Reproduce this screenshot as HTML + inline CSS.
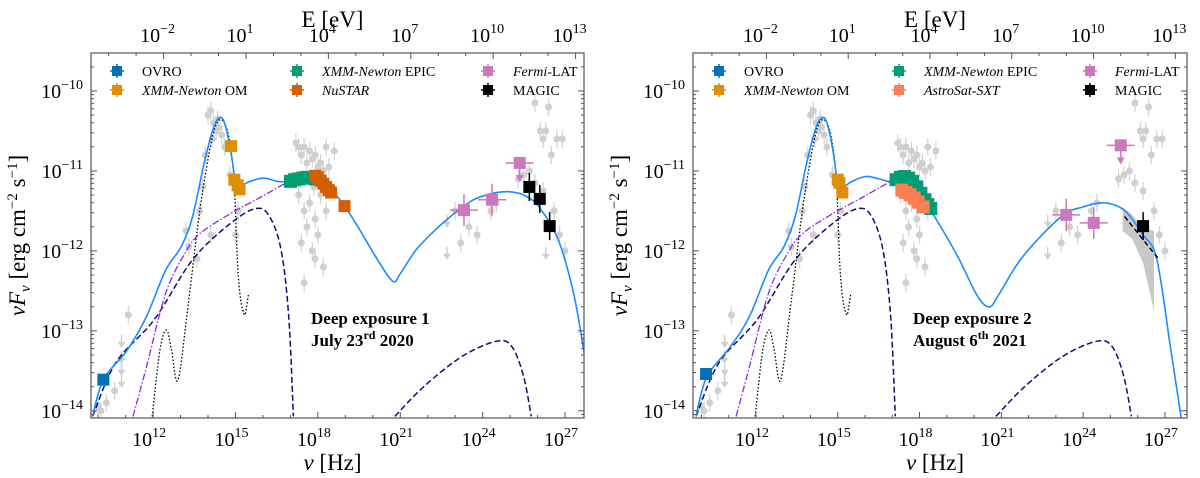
<!DOCTYPE html>
<html><head><meta charset="utf-8"><style>
html,body{margin:0;padding:0;background:#fff;}
svg{display:block;font-family:"Liberation Serif",serif;}
</style></head><body>
<svg id="chart" width="1200" height="478" viewBox="0 0 1200 478" xmlns="http://www.w3.org/2000/svg"></svg>
<script>
// ---------- data (log10 nu [Hz], log10 nuFnu) ----------
const p1ModelX=[9.80,10.19,11.06,11.76,12.46,13.02,13.44,13.86,14.21,14.45,14.63,14.84,15.01,15.19,15.54,16.03,16.52,16.94,17.50,18.06,18.76,19.46,20.17,20.73,21.01,21.57,22.27,22.97,23.67,24.37,24.93,25.49,26.05,26.75,27.31,27.70];
const p1ModelY=[-14.07,-13.61,-13.24,-12.82,-12.24,-11.95,-11.57,-10.90,-10.45,-10.33,-10.43,-10.78,-11.13,-11.18,-11.13,-11.09,-11.13,-11.13,-11.07,-11.15,-11.34,-11.70,-12.11,-12.38,-12.28,-11.99,-11.74,-11.53,-11.36,-11.28,-11.26,-11.30,-11.45,-11.86,-12.53,-13.28];
const p2ModelX=[9.80,10.19,11.06,11.76,12.46,13.02,13.44,13.86,14.21,14.45,14.63,14.84,15.01,15.19,15.54,16.03,16.52,16.94,17.40,17.90,18.55,19.40,20.10,20.55,20.90,21.79,23.20,24.00,24.60,25.10,25.60,26.20,26.70,27.20,27.60];
const p2ModelY=[-14.07,-13.58,-13.20,-12.82,-12.24,-11.95,-11.57,-10.90,-10.45,-10.33,-10.43,-10.78,-11.18,-11.20,-11.13,-11.07,-11.10,-11.13,-11.05,-11.22,-11.57,-12.07,-12.55,-12.70,-12.55,-12.07,-11.57,-11.45,-11.40,-11.42,-11.52,-11.80,-12.10,-13.20,-14.10];
const diskX=[9.80,10.64,12.04,13.44,14.84,15.75,16.24,16.66,16.94,17.11];
const diskY=[-14.07,-13.40,-12.86,-12.11,-11.65,-11.47,-11.57,-11.99,-12.82,-14.07];
const ecX=[20.80,21.85,23.25,24.51,25.07,25.49,25.77];
const ecY=[-14.07,-13.70,-13.32,-13.13,-13.20,-13.57,-14.07];
const sscX=[11.27,11.76,12.46,13.16,13.72,14.84,15.96,16.94];
const sscY=[-14.07,-13.45,-12.53,-12.03,-11.78,-11.53,-11.32,-11.13];
const hostX=[11.97,12.25,12.49,12.67,12.91,13.30,13.72,14.14,14.42,14.70,14.91,15.01,15.08,15.19,15.33,15.40,15.47];
const hostY=[-14.07,-13.24,-12.99,-13.24,-13.61,-12.61,-11.45,-10.61,-10.36,-10.49,-10.95,-11.57,-12.20,-12.61,-12.80,-12.70,-12.55];
// archival grey points
const grayX=[10.0,10.1,10.3,10.6,11.1,10.85,10.85,10.85,10.85,14.0,14.1,14.2,14.3,14.15,14.35,14.5,14.6,13.9,13.8,13.7,14.4,14.8,15.0,15.1,13.2,13.3,13.6,14.1,17.2,17.3,17.4,17.5,17.6,17.7,17.8,17.9,18.0,18.1,18.2,18.3,18.4,17.3,17.5,17.7,17.9,18.1,18.3,17.4,17.6,17.8,18.0,18.2,17.5,17.9,18.6,17.35,17.85,22.7,22.7,23.0,23.2,23.5,23.8,24.3,24.5,25.3,25.5,25.7,25.9,26.2,26.6,26.3,26.8,27.0,25.9,26.1,26.2,26.3,26.4,26.5,26.7,26.9];
const grayY=[-13.95,-14.0,-13.9,-13.75,-12.8,-13.1,-13.3,-13.45,-13.6,-10.3,-10.25,-10.4,-10.5,-10.6,-10.35,-10.55,-10.7,-10.8,-11.2,-11.5,-10.45,-11.05,-11.8,-11.5,-11.75,-11.95,-12.1,-11.8,-10.65,-10.7,-10.8,-10.7,-10.9,-10.75,-10.85,-10.8,-10.95,-10.9,-11.0,-10.7,-10.95,-11.3,-11.5,-11.4,-11.6,-11.3,-11.5,-11.9,-11.7,-12.0,-11.8,-12.2,-12.4,-12.1,-10.75,-11.1,-11.2,-11.6,-12.0,-11.5,-11.9,-11.7,-11.8,-11.5,-11.4,-11.1,-11.05,-11.0,-11.15,-11.25,-11.5,-12.0,-11.8,-12.0,-10.15,-10.5,-10.6,-10.5,-10.2,-10.8,-10.6,-10.6];
const grayUL=[0,0,0,0,0,1,1,1,1,0,0,0,0,0,0,0,0,0,0,0,0,0,0,0,0,0,0,0,0,0,0,0,0,0,0,0,0,0,0,0,0,0,0,0,0,0,0,0,0,0,0,0,0,0,0,0,0,1,1,0,0,0,0,0,0,0,0,0,0,0,0,1,0,0,0,0,0,0,0,0,0,0];
// panel 1 measurements
const p1OvroX=[10.19],p1OvroY=[-13.61];
const p1OmX=[14.84,14.96,15.08,15.15],p1OmY=[-10.69,-11.11,-11.18,-11.23];
const p1EpicX=[17.0,17.15,17.3,17.45,17.6,17.75,17.9],p1EpicY=[-11.13,-11.11,-11.10,-11.09,-11.08,-11.09,-11.10];
const p1NuX=[17.9,18.0,18.1,18.2,18.3,18.4,18.48,18.97],p1NuY=[-11.06,-11.08,-11.12,-11.16,-11.20,-11.24,-11.27,-11.44];
const p1FermiX=[23.32,24.34],p1FermiY=[-11.49,-11.36];
const p1FermiULX=[25.35],p1FermiULY=[-10.90];
const p1MagicX=[25.70,26.08,26.44],p1MagicY=[-11.20,-11.35,-11.69];
// panel 2 measurements
const p2OvroX=[10.17],p2OvroY=[-13.54];
const p2OmX=[15.0,15.06,15.17],p2OmY=[-11.11,-11.15,-11.27];
const p2EpicX=[17.14,17.3,17.45,17.6,17.75,17.9,18.05,18.2,18.3,18.41],p2EpicY=[-11.11,-11.08,-11.07,-11.09,-11.13,-11.20,-11.28,-11.36,-11.42,-11.47];
const p2AstroX=[17.35,17.5,17.65,17.8,17.95,18.13],p2AstroY=[-11.24,-11.27,-11.30,-11.34,-11.39,-11.45];
const p2FermiX=[23.38,24.39],p2FermiY=[-11.55,-11.65];
const p2FermiULX=[25.38],p2FermiULY=[-10.68];
const p2MagicX=[26.2],p2MagicY=[-11.69];
const p2ButterflyX=[25.45,25.8,26.2,26.6,26.6,26.2,25.8,25.45];
const p2ButterflyY=[-11.45,-11.55,-11.72,-11.75,-12.75,-12.15,-11.85,-11.75];
const p2PlX=[25.52,26.79],p2PlY=[-11.57,-12.11];
const yTicks=[-10,-11,-12,-13,-14];
const xTicks=[12,15,18,21,24,27];
const eTicks=[-2,1,4,7,10,13];

const NS="http://www.w3.org/2000/svg";
const svg=document.getElementById('chart');
function mk(tag,attrs,parent,text){const e=document.createElementNS(NS,tag);for(const k in attrs)e.setAttribute(k,attrs[k]);if(text!==undefined)e.textContent=text;(parent||svg).appendChild(e);return e;}
function smooth(pts){
  let d='M'+pts[0][0].toFixed(1)+','+pts[0][1].toFixed(1);
  for(let i=0;i<pts.length-1;i++){
    const p0=pts[Math.max(0,i-1)],p1=pts[i],p2=pts[i+1],p3=pts[Math.min(pts.length-1,i+2)];
    const c1=[p1[0]+(p2[0]-p0[0])/6,p1[1]+(p2[1]-p0[1])/6],c2=[p2[0]-(p3[0]-p1[0])/6,p2[1]-(p3[1]-p1[1])/6];
    d+='C'+c1[0].toFixed(1)+','+c1[1].toFixed(1)+' '+c2[0].toFixed(1)+','+c2[1].toFixed(1)+' '+p2[0].toFixed(1)+','+p2[1].toFixed(1);
  }
  return d;
}

function panel(P){
  const g=mk('g',{});
  
  
  const X=L=>P.x0+(L-P.lmin)*(P.x1-P.x0)/(P.lmax-P.lmin);
  const Y=F=>P.y0+(P.fmax-F)*(P.y1-P.y0)/(P.fmax-P.fmin);
  const clip='clip'+P.id;
  const cp=mk('clipPath',{id:clip},g);mk('rect',{x:P.x0,y:P.y0,width:P.x1-P.x0,height:P.y1-P.y0},cp);
  const plot=mk('g',{'clip-path':'url(#'+clip+')'},g);
  
  
  for(let i=0;i<grayX.length;i++){
    const cx=X(grayX[i]),cy=Y(grayY[i]);
    const gp=mk('g',{},plot);
    
    
    if(grayUL[i]){mk('line',{x1:cx,y1:cy-4,x2:cx,y2:cy+6,stroke:'#cfcfcf','stroke-width':1.5},gp);mk('path',{d:`M${cx-4},${cy+3}L${cx+4},${cy+3}L${cx},${cy+9}Z`,fill:'#cfcfcf'},gp);}
    else{mk('line',{x1:cx,y1:cy-9,x2:cx,y2:cy+9,stroke:'#d5d5d5','stroke-width':1.3},gp);mk('circle',{cx:cx,cy:cy,r:3.5,fill:'#cfcfcf'},gp);}
  }
  if(P.butterfly){const d=P.butterfly[0].map((v,i)=>(i?'L':'M')+X(v)+','+Y(P.butterfly[1][i])).join('')+'Z';const b=mk('path',{d:d,fill:'#c8c8c8'},plot);}
  const line=(xs,ys,st,name)=>{const p=mk('path',Object.assign({d:smooth(xs.map((v,i)=>[X(v),Y(ys[i])])),fill:'none','stroke-linejoin':'round'},st),plot);};
  line(hostX,hostY,{stroke:'#000','stroke-width':1.3,'stroke-dasharray':'1.5 2'},'host-galaxy-curve');
  line(diskX,diskY,{stroke:'#10106e','stroke-width':1.5,'stroke-dasharray':'6 3'},'disk-curve');
  line(ecX,ecY,{stroke:'#10106e','stroke-width':1.5,'stroke-dasharray':'6 3'},'ec-curve');
  line(sscX,sscY,{stroke:'#8a2be2','stroke-width':1.3,'stroke-dasharray':'7 2 1.5 2'},'ssc-curve');
  line(P.mx,P.my,{stroke:'#1a8cff','stroke-width':1.6},'total-model-curve');
  if(P.pl)line(P.pl[0],P.pl[1],{stroke:'#000','stroke-width':1.5,'stroke-dasharray':'5 3'},'magic-powerlaw');
  const sq=(xs,ys,col,name,xe,ye,s)=>{s=s||6;for(let i=0;i<xs.length;i++){const cx=X(xs[i]),cy=Y(ys[i]);const gp=mk('g',{},plot);
    if(xe)mk('line',{x1:cx-xe,y1:cy,x2:cx+xe,y2:cy,stroke:col,'stroke-width':1.5},gp);
    if(ye)mk('line',{x1:cx,y1:cy-ye,x2:cx,y2:cy+ye,stroke:col,'stroke-width':1.5},gp);
    mk('rect',{x:cx-s,y:cy-s,width:2*s,height:2*s,fill:col},gp);}};
  sq(P.ovro[0],P.ovro[1],'#0173b2','ovro-point');
  sq(P.om[0],P.om[1],'#de8f05','xmm-om-point');
  sq(P.epic[0],P.epic[1],'#029e73','xmm-epic-point',0,0,6.5);
  if(P.nu)sq(P.nu[0],P.nu[1],'#d55e00','nustar-point',4,0,6);
  if(P.astro)sq(P.astro[0],P.astro[1],'#fb7f55','astrosat-point',0,0,6.5);
  sq(P.fermi[0],P.fermi[1],'#cc78bc','fermi-point',14,16,6);
  for(let i=0;i<P.ful[0].length;i++){const cx=X(P.ful[0][i]),cy=Y(P.ful[1][i]);const gp=mk('g',{},plot);
    mk('line',{x1:cx-14,y1:cy,x2:cx+14,y2:cy,stroke:'#cc78bc','stroke-width':1.5},gp);mk('line',{x1:cx,y1:cy,x2:cx,y2:cy+14,stroke:'#cc78bc','stroke-width':1.5},gp);
    mk('path',{d:`M${cx-4},${cy+12}L${cx+4},${cy+12}L${cx},${cy+19}Z`,fill:'#cc78bc'},gp);mk('rect',{x:cx-6,y:cy-6,width:12,height:12,fill:'#cc78bc'},gp);}
  sq(P.magic[0],P.magic[1],'#000','magic-point',0,14,6);
  const fr=mk('rect',{x:P.x0,y:P.y0,width:P.x1-P.x0,height:P.y1-P.y0,fill:'none',stroke:'#555','stroke-width':1.2},g);
  
  for(let d=-15;d<=-9;d++){for(let m=1;m<10;m++){const F=d+Math.log10(m);if(F<P.fmin||F>P.fmax)continue;const y=Y(F);const len=m==1?6:3;
    mk('line',{x1:P.x0,y1:y,x2:P.x0+len,y2:y,stroke:'#555'},g);mk('line',{x1:P.x1,y1:y,x2:P.x1-len,y2:y,stroke:'#555'},g);}}
  yTicks.forEach(t=>{const tx=mk('text',{x:P.x0-8,y:Y(t)+7,'text-anchor':'end','font-size':20},g);
    mk('tspan',{},tx,'10');mk('tspan',{dy:-9,'font-size':14},tx,'\u2212'+(-t));});
  for(let L=10;L<=27;L++){const x=X(L);const len=L%3==0?6:3;mk('line',{x1:x,y1:P.y1,x2:x,y2:P.y1-len,stroke:'#555'},g);}
  xTicks.forEach(t=>{const tx=mk('text',{x:X(t)-4,y:P.y1+28,'text-anchor':'middle','font-size':20},g);
    mk('tspan',{},tx,'10');mk('tspan',{dy:-9,'font-size':14},tx,String(t));});
  for(let e=-4;e<=13;e++){const L=e+14.383;if(L<P.lmin||L>P.lmax)continue;const x=X(L);const len=(e+2)%3==0?6:3;mk('line',{x1:x,y1:P.y0,x2:x,y2:P.y0+len,stroke:'#555'},g);}
  eTicks.forEach(t=>{const tx=mk('text',{x:X(t+14.383)-6,y:P.y0-11,'text-anchor':'middle','font-size':20},g);
    mk('tspan',{},tx,'10');mk('tspan',{dy:-9,'font-size':14},tx,(t<0?'\u2212':'')+Math.abs(t));});
  let t=mk('text',{x:(P.x0+P.x1)/2-5,y:27,'text-anchor':'middle','font-size':23},g,'E [eV]');
  t=mk('text',{x:(P.x0+P.x1)/2-5,y:470,'text-anchor':'middle','font-size':23},g);
  mk('tspan',{'font-style':'italic'},t,'\u03bd');mk('tspan',{},t,' [Hz]');
  t=mk('text',{transform:`translate(${P.x0-66},${(P.y0+P.y1)/2}) rotate(-90)`,'text-anchor':'middle','font-size':23},g);
  mk('tspan',{'font-style':'italic'},t,'\u03bdF');mk('tspan',{'font-style':'italic','font-size':15,dy:5},t,'\u03bd');mk('tspan',{dy:-5},t,' [erg cm');mk('tspan',{dy:-8,'font-size':15},t,'\u22122');mk('tspan',{dy:8},t,' s');mk('tspan',{dy:-8,'font-size':15},t,'\u22121');mk('tspan',{dy:8},t,']');
  const leg=[[0,0,'#0173b2',[['OVRO',0]]],[0,1,'#de8f05',[['XMM-Newton',1],[' OM',0]]],[1,0,'#029e73',[['XMM-Newton',1],[' EPIC',0]]],[1,1,P.l4c,[[P.l4,1]]],[2,0,'#cc78bc',[['Fermi',1],['-LAT',0]]],[2,1,'#000',[['MAGIC',0]]]];
  const colx=[26,206,397];
  leg.forEach(([c,r,col,parts])=>{const lx=P.x0+colx[c],ly=P.y0+18+r*19;const lg=mk('g',{},g);
    mk('line',{x1:lx-7,y1:ly,x2:lx+7,y2:ly,stroke:col,'stroke-width':1.5},lg);mk('line',{x1:lx,y1:ly-7,x2:lx,y2:ly+7,stroke:col,'stroke-width':1.5},lg);mk('rect',{x:lx-5,y:ly-5,width:10,height:10,fill:col},lg);
    const tx=mk('text',{x:lx+25,y:ly+5,'font-size':14},lg);parts.forEach(([s,it])=>mk('tspan',it?{'font-style':'italic'}:{},tx,s));});
  const an=mk('text',{x:P.x0+220,y:324,'font-size':17,'font-weight':'bold'},g,P.ann1);
  const a2=mk('text',{x:P.x0+220,y:346,'font-size':17,'font-weight':'bold'},g);
  mk('tspan',{},a2,P.ann2[0]);mk('tspan',{dy:-7,'font-size':12},a2,P.ann2[1]);mk('tspan',{dy:7},a2,P.ann2[2]);
}
panel({id:1,name:'panel-deep-exposure-1',x0:91,x1:584,y0:53,y1:418,lmin:9.74,lmax:27.69,fmax:-9.525,fmin:-14.09,
  mx:p1ModelX,my:p1ModelY,ovro:[p1OvroX,p1OvroY],om:[p1OmX,p1OmY],epic:[p1EpicX,p1EpicY],nu:[p1NuX,p1NuY],fermi:[p1FermiX,p1FermiY],ful:[p1FermiULX,p1FermiULY],magic:[p1MagicX,p1MagicY],
  l4:'NuSTAR',l4c:'#d55e00',ann1:'Deep exposure 1',ann2:['July 23','rd',' 2020']});
panel({id:2,name:'panel-deep-exposure-2',x0:693,x1:1187,y0:53,y1:418,lmin:9.69,lmax:27.81,fmax:-9.525,fmin:-14.09,
  mx:p2ModelX,my:p2ModelY,ovro:[p2OvroX,p2OvroY],om:[p2OmX,p2OmY],epic:[p2EpicX,p2EpicY],astro:[p2AstroX,p2AstroY],fermi:[p2FermiX,p2FermiY],ful:[p2FermiULX,p2FermiULY],magic:[p2MagicX,p2MagicY],
  butterfly:[p2ButterflyX,p2ButterflyY],pl:[p2PlX,p2PlY],
  l4:'AstroSat-SXT',l4c:'#fb7f55',ann1:'Deep exposure 2',ann2:['August 6','th',' 2021']});
</script>
</body></html>
